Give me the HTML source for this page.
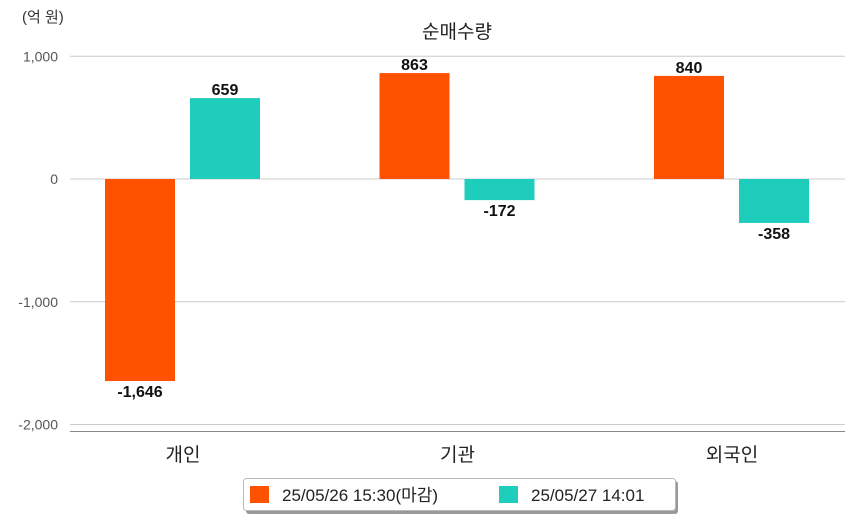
<!DOCTYPE html>
<html><head><meta charset="utf-8"><style>
body{margin:0;background:#fff;}
svg{display:block;font-family:"Liberation Sans","Noto Sans CJK KR",sans-serif;}
</style></head><body>
<svg id="c" width="854" height="520"></svg>
<script>
const categories=["개인","기관","외국인"];
const series1=[-1646,863,840];
const series2=[659,-172,-358];
const seriesNames=["25/05/26 15:30(마감)","25/05/27 14:01"];
const yTicks=[1000,0,-1000,-2000];
const yTickLabels=["1,000","0","-1,000","-2,000"];
const colors=["#ff5200","#1ecdbc"];
const svg=document.getElementById('c');
const NS="http://www.w3.org/2000/svg";
function y(v){return 179-v*0.12275;}
function cx(i){return 183+i*274.5;}
function mk(tag,attrs,text){const e=document.createElementNS(NS,tag);for(const k in attrs)e.setAttribute(k,attrs[k]);if(text!==undefined)e.textContent=text;svg.appendChild(e);return e;}
let t=mk('text',{x:22,y:22,'font-size':15,fill:'#333'},'(억 원)');


t=mk('text',{x:457,y:38,'font-size':19,fill:'#222','text-anchor':'middle'},'순매수량');


yTicks.forEach((v,i)=>{
 const l=mk('line',{x1:70,x2:845,y1:y(v),y2:y(v),stroke:'#ccc','stroke-width':1});
 
 
 const tx=mk('text',{x:58,y:y(v)+5,'font-size':14,fill:'#555','text-anchor':'end'},yTickLabels[i]);
 
 
});
const ax=mk('line',{x1:70,x2:845,y1:431.5,y2:431.5,stroke:'#888','stroke-width':1});


categories.forEach((c,i)=>{
 const tx=mk('text',{x:cx(i),y:461,'font-size':19,fill:'#222','text-anchor':'middle'},c);
 
 
 [series1,series2].forEach((s,j)=>{
  const v=s[i];const x0=cx(i)+(j===0?-78:7);
  const top=Math.min(y(v),y(0)),h=Math.abs(y(v)-y(0));
  const r=mk('rect',{x:x0,y:top,width:70,height:h,fill:colors[j]});
  
  
  const ly=v>=0?y(v)-3:y(v)+16;
  const lb=mk('text',{x:x0+35,y:ly,'font-size':16,'font-weight':'bold',fill:'#111','text-anchor':'middle'},v.toLocaleString('en-US'));
  
  
 });
});
const sh=mk('rect',{x:246,y:481,width:432,height:33,rx:3,fill:'#999'});


const lg=mk('rect',{x:243.5,y:478.5,width:432,height:32,rx:3,fill:'#fff',stroke:'#bbb'});


const lx=[250,499];
seriesNames.forEach((n,j)=>{
 const s=mk('rect',{x:lx[j],y:486,width:19,height:17,fill:colors[j]});
 
 
 const tx=mk('text',{x:lx[j]+32,y:501,'font-size':17,fill:'#222'},n);
 
 
});
</script>
</body></html>
